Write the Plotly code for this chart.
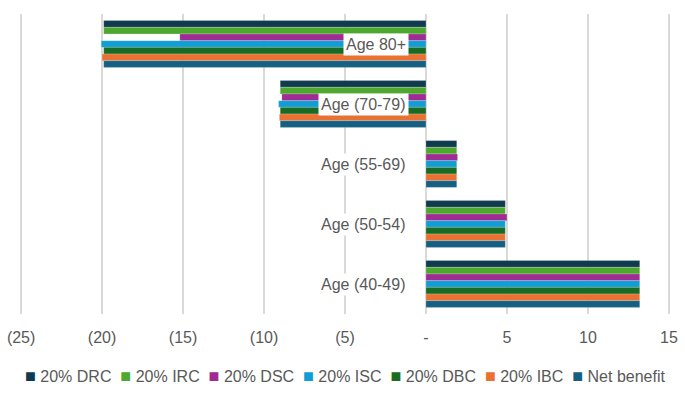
import plotly.graph_objects as go

categories = ["Age 80+", "Age (70-79)", "Age (55-69)", "Age (50-54)", "Age (40-49)"]
series_names = ["20% DRC", "20% IRC", "20% DSC", "20% ISC", "20% DBC", "20% IBC", "Net benefit"]
drc = [-19.9, -9.0, 1.9, 4.9, 13.2]
irc = [-19.9, -9.0, 1.9, 4.9, 13.2]
dsc = [-15.2, -8.9, 1.95, 5.0, 13.2]
isc = [-20.05, -9.1, 1.9, 4.9, 13.2]
dbc = [-19.9, -9.0, 1.9, 4.9, 13.2]
ibc = [-20.0, -9.05, 1.9, 4.9, 13.2]
net = [-19.9, -9.0, 1.9, 4.9, 13.2]
series_values = [drc, irc, dsc, isc, dbc, ibc, net]
colors = ["#0F3A4F", "#4EA72E", "#A02B93", "#0F9ED5", "#196B24", "#E97132", "#156082"]
tick_vals = [-25, -20, -15, -10, -5, 0, 5, 10, 15]
tick_text = ["(25)", "(20)", "(15)", "(10)", "(5)", "-", "5", "10", "15"]

FONT = "Liberation Sans, Arial, sans-serif"
GRAY = "#595959"

fig = go.Figure()
for name, vals, c in zip(series_names, series_values, colors):
    fig.add_trace(go.Bar(
        y=categories, x=vals, name=name, orientation="h",
        marker=dict(color=c, line=dict(color="rgba(255,255,255,0.5)", width=0.4)),
    ))

for cat in categories:
    fig.add_annotation(
        x=0, y=cat, xref="x", yref="y", text=cat, showarrow=False,
        xanchor="right", xshift=-17, bgcolor="white", borderpad=2,
        font=dict(family=FONT, size=16, color=GRAY),
    )

# legend built as a single line of text
legend_parts = [
    f"<span style='color:{c};font-size:18px'>■</span> {n}" for n, c in zip(series_names, colors)
]
fig.add_annotation(
    x=0.5, y=-0.207, xref="paper", yref="paper", xanchor="center", yanchor="middle",
    text="  ".join(legend_parts), showarrow=False,
    font=dict(family=FONT, size=16, color=GRAY),
)

fig.update_layout(
    width=685, height=397,
    margin=dict(l=19, r=14, t=14, b=83),
    paper_bgcolor="white", plot_bgcolor="white",
    barmode="group", bargap=0.22, bargroupgap=0,
    font=dict(family=FONT, size=16, color=GRAY),
    showlegend=False,
)
fig.update_xaxes(range=[-25.13, 15.13], tickvals=tick_vals, ticktext=tick_text,
                 showgrid=True, gridcolor="#D9D9D9", gridwidth=1.5,
                 zeroline=False, ticks="", ticklabelstandoff=12, automargin=False,
                 tickfont=dict(size=16, color=GRAY), showline=False)
fig.update_yaxes(categoryorder="array", categoryarray=categories, autorange="reversed",
                 showticklabels=False, showgrid=False, zeroline=False, showline=False,
                 automargin=False)

fig.write_html("out.html", config={"displayModeBar": False},
               post_script="document.body.style.margin='0px';")
